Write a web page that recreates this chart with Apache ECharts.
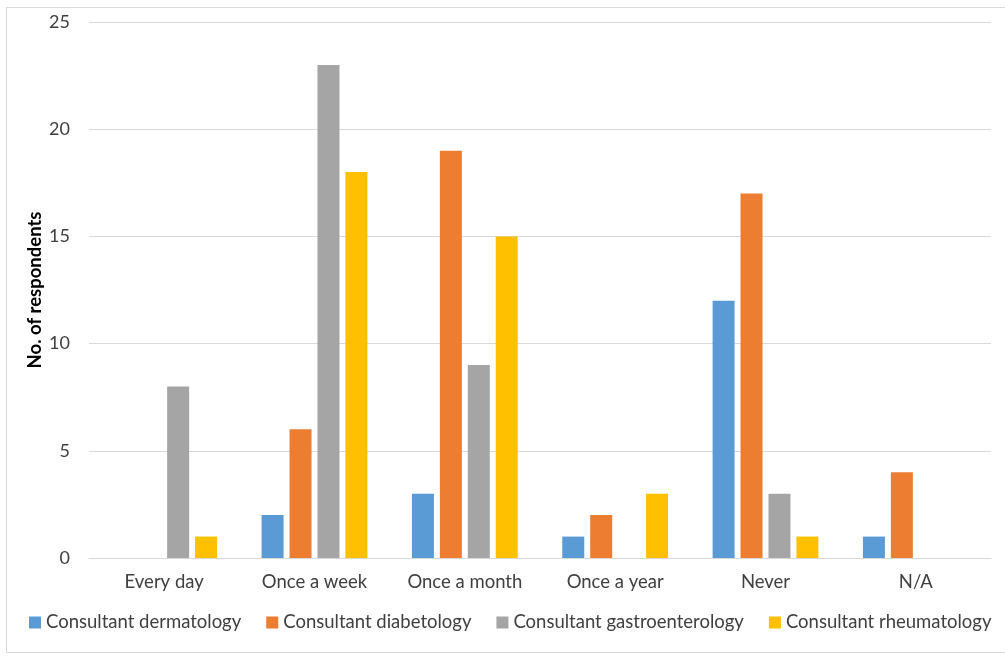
<!DOCTYPE html>
<html>
<head>
<meta charset="utf-8">
<script src="https://cdn.jsdelivr.net/npm/echarts@6/dist/echarts.min.js"></script>
<style>
  html, body { margin: 0; padding: 0; background: #ffffff; }
  #chart { width: 1005px; height: 656px; }
</style>
</head>
<body>
<div id="chart"></div>
<script>
// Frequency categories on the x axis
const categories = ['Every day', 'Once a week', 'Once a month', 'Once a year', 'Never', 'N/A'];

// Respondent counts per consultant group
const dermatology = [0, 2, 3, 1, 12, 1];
const diabetology = [0, 6, 19, 2, 17, 4];
const gastroenterology = [8, 23, 9, 0, 3, 0];
const rheumatology = [1, 18, 15, 3, 1, 0];

const seriesNames = [
  'Consultant dermatology',
  'Consultant diabetology',
  'Consultant gastroenterology',
  'Consultant rheumatology'
];
const seriesData = [dermatology, diabetology, gastroenterology, rheumatology];
const colors = ['#5B9BD5', '#ED7D31', '#A5A5A5', '#FFC000'];

const yTicks = { min: 0, max: 25, interval: 5 };

const FONT = 'Lato';

const chart = echarts.init(document.getElementById('chart'), null, { renderer: 'canvas' });

chart.setOption({
  animation: false,
  backgroundColor: '#ffffff',
  color: colors,
  textStyle: { fontFamily: FONT },
  graphic: [{
    type: 'rect',
    shape: { x: 6.5, y: 7.5, width: 1000, height: 645 },
    style: { fill: 'none', stroke: '#d9d9d9', lineWidth: 1 },
    silent: true,
    z: -1
  }],
  grid: { left: 89, right: 14, top: 22, bottom: 98, containLabel: false },
  legend: {
    bottom: 19,
    left: 24,
    itemWidth: 12,
    itemHeight: 12,
    itemGap: 25,
    icon: 'rect',
    textStyle: { fontFamily: FONT, fontSize: 18.5, color: '#404040' },
    data: seriesNames
  },
  xAxis: {
    type: 'category',
    data: categories,
    axisLine: { show: true, lineStyle: { color: '#d9d9d9', width: 1 } },
    axisTick: { show: false },
    axisLabel: { fontFamily: FONT, fontSize: 18.5, color: '#404040', margin: 15 }
  },
  yAxis: {
    type: 'value',
    min: yTicks.min,
    max: yTicks.max,
    interval: yTicks.interval,
    name: 'No. of respondents',
    nameLocation: 'middle',
    nameGap: 44,
    nameMoveOverlap: false,
    nameTextStyle: { fontFamily: FONT, fontSize: 18.5, fontWeight: 'bold', color: '#000000' },
    axisLine: { show: false },
    axisTick: { show: false },
    axisLabel: { fontFamily: FONT, fontSize: 18, color: '#404040', margin: 19 },
    splitLine: { lineStyle: { color: '#d9d9d9', width: 1 } }
  },
  series: seriesNames.map((name, i) => ({
    name: name,
    type: 'bar',
    data: seriesData[i],
    barWidth: 22,
    barGap: '27%',
    itemStyle: { color: colors[i] }
  }))
});
</script>
</body>
</html>
